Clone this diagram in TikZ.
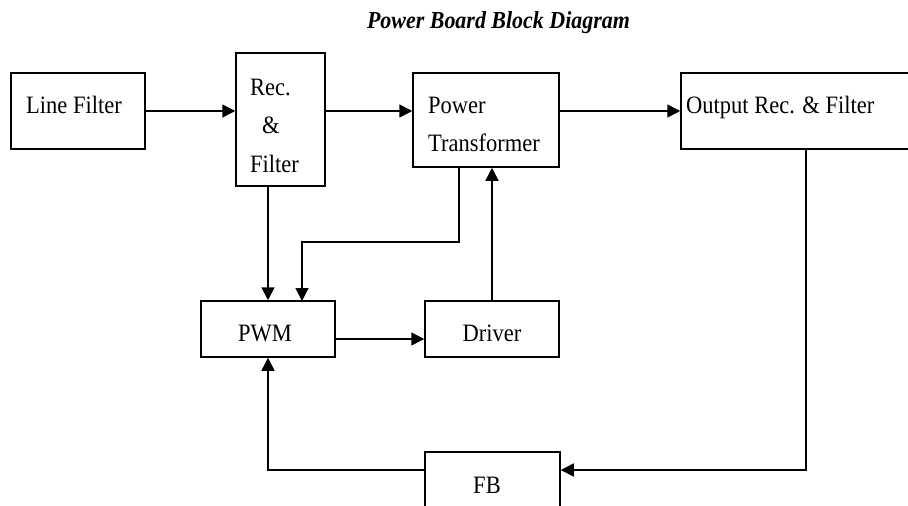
\documentclass[tikz,border=0pt]{standalone}
\usepackage{fontspec}
\setmainfont{Liberation Serif}[FakeStretch=0.9]
\usetikzlibrary{arrows.meta}
\begin{document}
\begin{tikzpicture}[x=1pt,y=-1pt,
  blk/.style={draw,line width=1.5pt,inner sep=0pt,rectangle},
  lbl/.style={anchor=base west,inner sep=0pt,font=\fontsize{25}{25}\selectfont},
  clbl/.style={anchor=base,inner sep=0pt,font=\fontsize{25}{25}\selectfont},
  conn/.style={line width=1.5pt},
  arr/.style={conn,-{Triangle[length=13pt,width=13pt]}}]
\useasboundingbox (0,0) rectangle (908,506);
\clip (0,0) rectangle (908,506);
% boxes
\node[blk,minimum width=134pt,minimum height=76pt] (lf) at (78,111) {};
\node[blk,minimum width=89pt,minimum height=133pt] (rec) at (280.5,119.5) {};
\node[blk,minimum width=146pt,minimum height=94pt] (pt) at (486,120) {};
\node[blk,minimum width=249pt,minimum height=76pt] (out) at (805.5,111) {};
\node[blk,minimum width=134pt,minimum height=56pt] (pwm) at (268,329) {};
\node[blk,minimum width=134pt,minimum height=56pt] (drv) at (492,329) {};
\node[blk,minimum width=135pt,minimum height=80pt] (fb) at (492.5,492) {};
% texts
\node[anchor=base,inner sep=0pt,font=\fontsize{24.4}{24.4}\selectfont\bfseries\itshape] (title) at (498.5,28) {Power Board Block Diagram};
\node[lbl] (tlf) at (26,113) {Line Filter};
\node[lbl] (trec1) at (250,95) {Rec.};
\node[lbl] (trec2) at (262,133) {\&};
\node[lbl] (trec3) at (250,172) {Filter};
\node[lbl] (tpt1) at (428,113) {Power};
\node[lbl] (tpt2) at (428,151) {Transformer};
\node[lbl] (tout) at (686,113) {Output Rec. \& Filter};
\node[clbl] (tpwm) at (265,341) {PWM};
\node[clbl] (tdrv) at (492,341) {Driver};
\node[clbl] (tfb) at (487,493) {FB};
% connectors
\draw[arr] (lf.east) -- (lf.east -| rec.west);
\draw[arr] (lf.east -| rec.east) -- (lf.east -| pt.west);
\draw[arr] (lf.east -| pt.east) -- (lf.east -| out.west);
\draw[arr] (pwm.north |- rec.south) -- (pwm.north);
\coordinate (ptd) at (459,167);
\coordinate (pbend) at (459,242);
\coordinate (pbend2) at (302,242);
\coordinate (pin) at (302,301);
\draw[arr] (ptd) -- (pbend) -- (pbend2) -- (pin);
\draw[arr] (drv.north) -- (drv.north |- pt.south);
\coordinate (pwmo) at (335,339);
\draw[arr] (pwmo) -- (pwmo -| drv.west);
\coordinate (outd) at (806,149);
\coordinate (outb) at (806,470);
\coordinate (fbin) at (425,470);
\draw[arr] (outd) -- (outb) -- (outb -| fb.east);
\draw[arr] (fbin) -- (fbin -| pwm.south) -- (pwm.south);
\end{tikzpicture}
\end{document}
